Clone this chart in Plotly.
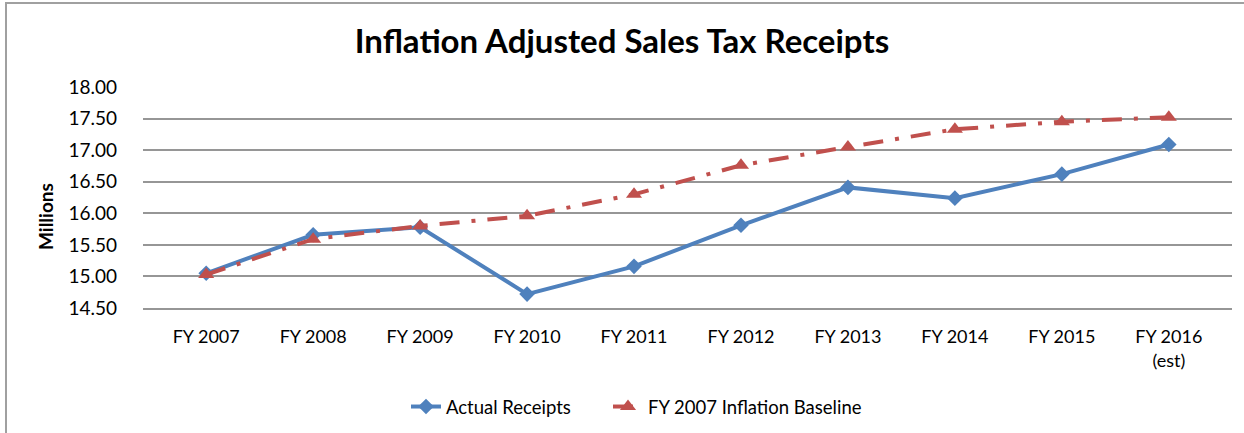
import plotly.graph_objects as go

fiscal_years = ['FY 2007', 'FY 2008', 'FY 2009', 'FY 2010', 'FY 2011',
                'FY 2012', 'FY 2013', 'FY 2014', 'FY 2015', 'FY 2016<br>(est)']
actual_receipts = [15.05, 15.66, 15.78, 14.72, 15.16, 15.81, 16.41, 16.24, 16.62, 17.09]
inflation_baseline = [15.03, 15.59, 15.80, 15.96, 16.30, 16.76, 17.05, 17.33, 17.45, 17.52]
y_ticks = [14.5, 15.0, 15.5, 16.0, 16.5, 17.0, 17.5, 18.0]

FONT = 'Lato, Open Sans, sans-serif'
PLOT_W = 1244 - 143 - 12
PLOT_H = 433 - 87 - 125

fig = go.Figure()

fig.add_trace(
    go.Scatter(
        x=fiscal_years,
        y=actual_receipts,
        name='Actual Receipts',
        mode='lines+markers',
        line=dict(color='#4F81BD', width=4),
        marker=dict(symbol='diamond', size=12, color='#4F81BD'),
        legend='legend'
    )
)
fig.add_trace(
    go.Scatter(
        x=fiscal_years,
        y=inflation_baseline,
        name='FY 2007 Inflation Baseline',
        mode='lines+markers',
        line=dict(color='#C0504D', width=4, dash='20px,12px,4px,12px'),
        marker=dict(symbol='triangle-up', size=14, color='#C0504D'),
        legend='legend2'
    )
)

legend_style = dict(
    orientation='h',
    xanchor='left',
    y=(308 - 407) / PLOT_H,
    yanchor='middle',
    font=dict(family=FONT, size=18.5),
    bgcolor='rgba(0,0,0,0)'
)

# Figure Layout
fig.update_layout(
    width=1244,
    height=433,
    margin=dict(l=143, r=12, t=87, b=125, autoexpand=False),
    paper_bgcolor='white',
    plot_bgcolor='white',
    font=dict(family=FONT, size=18, color='#000000'),
    title=dict(
        text='<b>Inflation Adjusted Sales Tax Receipts</b>',
        x=0.5,
        xanchor='center',
        y=0.905,
        yanchor='middle',
        font=dict(family=FONT, size=33, color='#000000')
    ),
    legend=dict(legend_style, x=(406 - 143) / PLOT_W),
    legend2=dict(legend_style, x=(608 - 143) / PLOT_W),
    showlegend=True
)
fig.update_xaxes(
    showgrid=False,
    showline=True,
    linecolor='#969696',
    linewidth=1.5,
    ticks='',
    ticklabelstandoff=12,
    automargin=False,
    tickfont=dict(family=FONT, size=18)
)
fig.update_yaxes(
    range=[14.5, 18.0],
    tickvals=y_ticks,
    tickformat='.2f',
    showgrid=True,
    gridcolor='#969696',
    gridwidth=1.5,
    zeroline=False,
    ticks='',
    ticklabelstandoff=25,
    automargin=False,
    tickfont=dict(family=FONT, size=19)
)

fig.add_annotation(
    text='<b>Millions</b>',
    xref='paper', yref='paper',
    x=(45 - 143) / PLOT_W, y=(308 - 217) / PLOT_H,
    xanchor='center', yanchor='middle',
    textangle=-90,
    showarrow=False,
    font=dict(family=FONT, size=19, color='#000000')
)

# Chart area border (right and bottom edges run off the window)
fig.add_shape(
    type='rect',
    xref='paper', yref='paper',
    x0=(6 - 143) / PLOT_W, x1=(1260 - 143) / PLOT_W,
    y0=(308 - 450) / PLOT_H, y1=(308 - 3) / PLOT_H,
    line=dict(color='#A0A0A0', width=2)
)

# drop the default page margin so the figure sits at the window's origin
fig.write_html(
    'out.html',
    config={'displayModeBar': False},
    post_script="document.body.style.margin='0px';"
)
